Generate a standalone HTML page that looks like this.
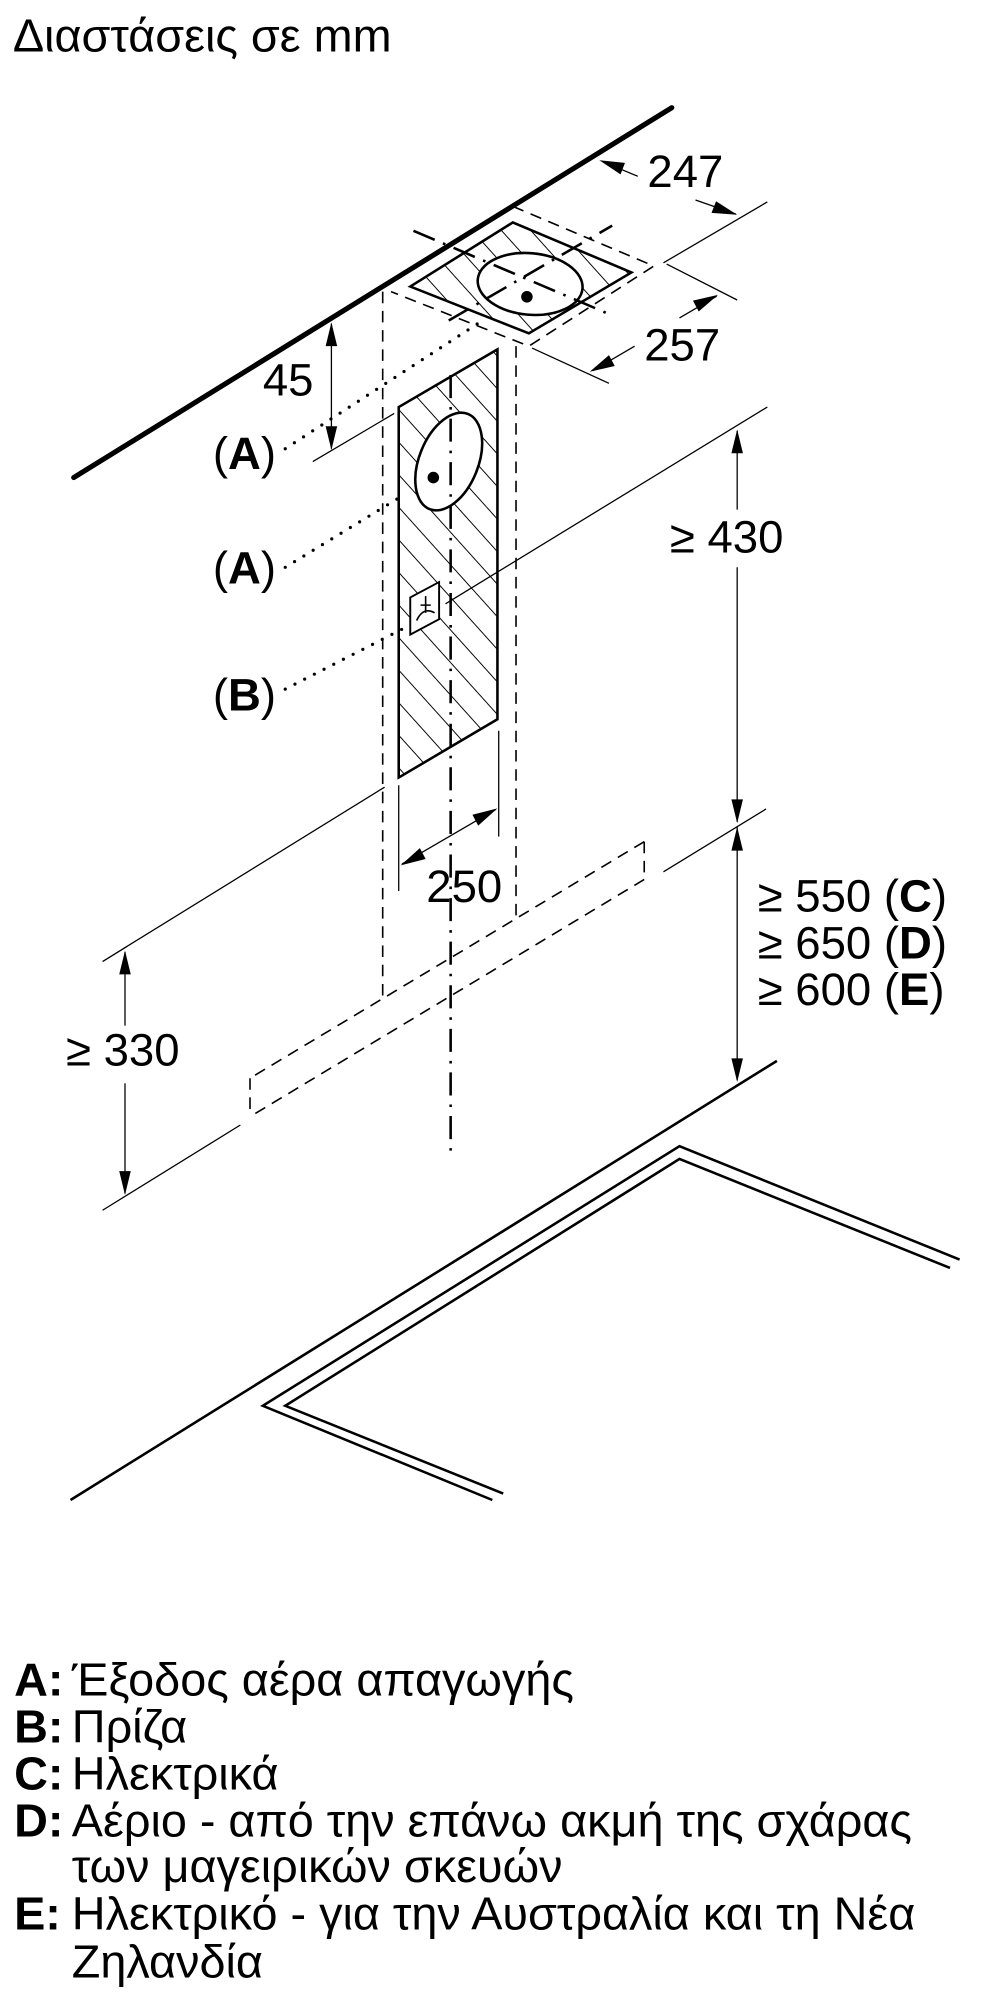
<!DOCTYPE html>
<html><head><meta charset="utf-8"><style>
html,body{margin:0;padding:0;background:#fff;}
svg{display:block;}
text{font-family:"Liberation Sans",Arial,sans-serif;fill:#000;}
</style></head><body>
<svg width="1000" height="2000" viewBox="0 0 1560 3120" xmlns="http://www.w3.org/2000/svg">
<defs>
<pattern id="h" width="34" height="34" patternUnits="userSpaceOnUse" patternTransform="rotate(-42)">
<line x1="0" y1="0" x2="0" y2="34" stroke="#000" stroke-width="3"/>
</pattern>
</defs>
<g stroke="#000" fill="none">
<text x="20" y="80" font-size="73" stroke="none">Διαστάσεις σε mm</text>
<line x1="115" y1="745" x2="1048" y2="168" stroke-width="8" stroke-linecap="round"/>
<g stroke-width="2.5" stroke-dasharray="18,12">
<polyline points="800,322 1020,415 825,540 610,455"/>
<line x1="597" y1="455" x2="597" y2="1555"/>
<line x1="805" y1="540" x2="805" y2="1430"/>
<line x1="1005" y1="1313" x2="1005" y2="1372"/>
<line x1="1005" y1="1313" x2="390" y2="1682"/>
<line x1="1005" y1="1372" x2="390" y2="1742"/>
<line x1="390" y1="1682" x2="390" y2="1742"/>
</g>
<polygon points="640,447 800,347 985,425 825,520" fill="url(#h)" stroke-width="4"/>
<ellipse cx="827" cy="443" rx="82" ry="48" fill="#fff" stroke-width="4" transform="rotate(5 827 443)"/>
<circle cx="822" cy="463" r="9" fill="#000" stroke="none"/>
<g stroke-width="4" stroke-dasharray="36,14,4,14">
<line x1="645" y1="360" x2="955" y2="492"/>
<line x1="700" y1="500" x2="955" y2="352"/>
</g>
<polygon points="622,635 776,545 776,1122 622,1213" fill="url(#h)" stroke-width="4"/>
<ellipse cx="700" cy="720" rx="46" ry="80" fill="#fff" stroke-width="4" transform="rotate(22 700 720)"/>
<circle cx="676" cy="745" r="9" fill="#000" stroke="none"/>
<polygon points="640,932 685,908 685,966 640,990" fill="#fff" stroke-width="3"/>
<path d="M650,968 q10,-22 28,-12 M664,930 v26 M656,944 h16" stroke-width="2.5"/>
<line x1="703" y1="585" x2="703" y2="1800" stroke-width="4" stroke-dasharray="36,14,4,14"/>
<g stroke-width="2">
<line x1="695" y1="942" x2="1197" y2="635"/>
<line x1="160" y1="1500" x2="600" y2="1228"/>
<line x1="1035" y1="410" x2="1197" y2="315"/>
<line x1="1040" y1="412" x2="1150" y2="468"/>
<line x1="830" y1="543" x2="950" y2="598"/>
<line x1="488" y1="720" x2="615" y2="645"/>
<line x1="1035" y1="1360" x2="1195" y2="1262"/>
<line x1="375" y1="1755" x2="160" y2="1888"/>
<line x1="622" y1="1225" x2="622" y2="1390"/>
<line x1="778" y1="1140" x2="778" y2="1305"/>
<line x1="940" y1="252" x2="995" y2="275"/>
<line x1="1085" y1="312" x2="1148" y2="334"/>
<line x1="925" y1="578" x2="990" y2="540"/>
<line x1="1060" y1="496" x2="1118" y2="462"/>
<line x1="517" y1="505" x2="517" y2="700"/>
<line x1="1150" y1="672" x2="1150" y2="795"/>
<line x1="1150" y1="885" x2="1150" y2="1282"/>
<line x1="1150" y1="1290" x2="1150" y2="1685"/>
<line x1="627" y1="1348" x2="773" y2="1263"/>
<line x1="195" y1="1485" x2="195" y2="1600"/>
<line x1="195" y1="1690" x2="195" y2="1862"/>
</g>
<g fill="#000" stroke="none">
<polygon points="935,250 975,254 968,272"/>
<polygon points="1150,335 1110,332 1117,314"/>
<polygon points="920,580 950,554 959,571"/>
<polygon points="1120,460 1090,486 1081,469"/>
<polygon points="517,503 508,540 526,540"/>
<polygon points="517,702 508,665 526,665"/>
<polygon points="1150,670 1141,707 1159,707"/>
<polygon points="1150,1284 1141,1247 1159,1247"/>
<polygon points="1150,1290 1141,1327 1159,1327"/>
<polygon points="1150,1688 1141,1651 1159,1651"/>
<polygon points="625,1350 655,1323 664,1340"/>
<polygon points="776,1261 746,1288 737,1271"/>
<polygon points="195,1483 186,1520 204,1520"/>
<polygon points="195,1864 186,1827 204,1827"/>
</g>
<g stroke-width="5" stroke-dasharray="0,17" stroke-linecap="round">
<line x1="445" y1="700" x2="745" y2="505"/>
<line x1="445" y1="885" x2="625" y2="775"/>
<line x1="445" y1="1075" x2="640" y2="975"/>
</g>
<g stroke-width="4">
<line x1="110" y1="2340" x2="1212" y2="1655"/>
<polyline points="1497,1965 1060,1788 410,2193 768,2340"/>
<polyline points="1482,1978 1060,1808 445,2193 785,2330"/>
</g>
</g>
<g font-size="71">
<text x="1010" y="292">247</text>
<text x="1005" y="562">257</text>
<text x="410" y="617">45</text>
<text x="332" y="732">(<tspan font-weight="bold">A</tspan>)</text>
<text x="332" y="910">(<tspan font-weight="bold">A</tspan>)</text>
<text x="332" y="1108">(<tspan font-weight="bold">B</tspan>)</text>
<text x="1045" y="862">≥ 430</text>
<text x="665" y="1407">250</text>
<text x="1182" y="1422">≥ 550 (<tspan font-weight="bold">C</tspan>)</text>
<text x="1182" y="1495">≥ 650 (<tspan font-weight="bold">D</tspan>)</text>
<text x="1182" y="1568">≥ 600 (<tspan font-weight="bold">E</tspan>)</text>
<text x="103" y="1662">≥ 330</text>
</g>
<g font-size="73">
<text x="22" y="2645" font-weight="bold">A:</text><text x="112" y="2645">Έξοδος αέρα απαγωγής</text>
<text x="22" y="2718" font-weight="bold">B:</text><text x="112" y="2718">Πρίζα</text>
<text x="22" y="2792" font-weight="bold">C:</text><text x="112" y="2792">Ηλεκτρικά</text>
<text x="22" y="2865" font-weight="bold">D:</text><text x="112" y="2865">Αέριο - από την επάνω ακμή της σχάρας</text>
<text x="112" y="2936">των μαγειρικών σκευών</text>
<text x="22" y="3010" font-weight="bold">E:</text><text x="112" y="3010">Ηλεκτρικό - για την Αυστραλία και τη Νέα</text>
<text x="112" y="3085">Ζηλανδία</text>
</g>
</svg>
</body></html>
